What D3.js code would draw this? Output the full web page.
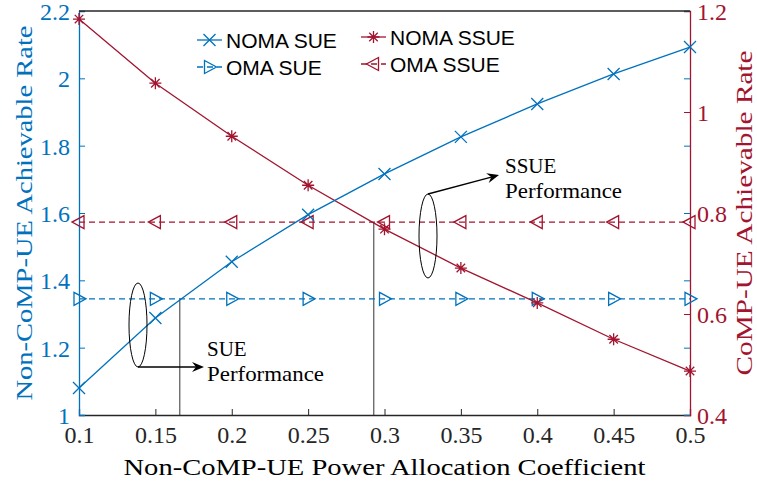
<!DOCTYPE html>
<meta charset="utf-8">
<style>
  body { margin: 0; background: #fff; }
  text { font-family: "Liberation Serif", "DejaVu Serif", serif; }
</style>
<svg width="757" height="486"></svg>
<script src="https://d3js.org/d3.v7.min.js"></script>
<script>
var alpha = [0.1, 0.15, 0.2, 0.25, 0.3, 0.35, 0.4, 0.45, 0.5]
var nomaSue = [1.08, 1.288, 1.455, 1.595, 1.716, 1.826, 1.924, 2.013, 2.093]
var omaSue = [1.345, 1.345, 1.345, 1.345, 1.345, 1.345, 1.345, 1.345, 1.345]
var nomaSsue = [1.184, 1.057, 0.952, 0.855, 0.768, 0.691, 0.622, 0.550, 0.487]
var omaSsue = [0.782, 0.782, 0.782, 0.782, 0.782, 0.782, 0.782, 0.782, 0.782]
var xTicks = [0.1, 0.15, 0.2, 0.25, 0.3, 0.35, 0.4, 0.45, 0.5]
var yLeftTicks = [1, 1.2, 1.4, 1.6, 1.8, 2, 2.2]
var yRightTicks = [0.4, 0.6, 0.8, 1, 1.2]
// crossing points marked by the vertical guide lines
var sueCross = 0.166, ssueCross = 0.293

var blue = '#0072BD', red = '#A2142F'
var svg = d3.select('svg')
var L = 79, R = 690, T = 11, B = 415

var x = d3.scaleLinear().domain([0.1, 0.5]).range([L, R])
var yL = d3.scaleLinear().domain([1, 2.2]).range([B, T])
var yR = d3.scaleLinear().domain([0.4, 1.2]).range([B, T])

// guide lines
svg.append('line').attr('x1', x(sueCross)).attr('x2', x(sueCross))
  .attr('y1', yL(1.345)).attr('y2', B).attr('stroke', '#333').attr('stroke-width', 1)
svg.append('line').attr('x1', x(ssueCross)).attr('x2', x(ssueCross))
  .attr('y1', yR(0.782)).attr('y2', B).attr('stroke', '#333').attr('stroke-width', 1)

// axes
var gx = svg.append('g').attr('transform', 'translate(0,' + B + ')')
  .call(d3.axisBottom(x).tickValues(xTicks).tickSize(-6).tickPadding(11).tickFormat(d3.format('')))
var gl = svg.append('g').attr('transform', 'translate(' + L + ',0)')
  .call(d3.axisLeft(yL).tickValues(yLeftTicks).tickSize(-6).tickPadding(9).tickFormat(d3.format('')))
var gr = svg.append('g').attr('transform', 'translate(' + R + ',0)')
  .call(d3.axisRight(yR).tickValues(yRightTicks).tickSize(-6).tickPadding(7).tickFormat(d3.format('')))
var glr = svg.append('g').attr('transform', 'translate(' + R + ',0)')
  .call(d3.axisRight(yL).tickValues(yLeftTicks).tickSize(-6).tickFormat(''))

svg.selectAll('g text').attr('font-family', null).style('font-size', '24px')
gx.selectAll('path, line').attr('stroke', '#262626')
gx.selectAll('text').attr('fill', '#262626')
gl.selectAll('path, line').attr('stroke', blue)
gl.selectAll('text').attr('fill', blue).attr('dy', '0.35em')
gr.selectAll('path, line').attr('stroke', red)
gr.selectAll('text').attr('fill', red).attr('dy', '0.35em')
glr.select('path').remove()
glr.selectAll('line').attr('stroke', blue)
svg.selectAll('.domain').attr('stroke-width', 1.3)

// lines
var lineL = d3.line().x(function (d, i) { return x(alpha[i]) }).y(function (d) { return yL(d) })
var lineR = d3.line().x(function (d, i) { return x(alpha[i]) }).y(function (d) { return yR(d) })

function marker(g, type, px, py, color) {
  var s = 6
  var p
  if (type === 'x') {
    p = 'M' + (px - s) + ',' + (py - s) + 'L' + (px + s) + ',' + (py + s) +
      'M' + (px - s) + ',' + (py + s) + 'L' + (px + s) + ',' + (py - s)
  } else if (type === 'star') {
    p = ''
    for (var k = 0; k < 4; k++) {
      var a = k * Math.PI / 4
      p += 'M' + (px - s * Math.cos(a)) + ',' + (py - s * Math.sin(a)) + 'L' + (px + s * Math.cos(a)) + ',' + (py + s * Math.sin(a))
    }
  } else if (type === 'tr') {
    p = 'M' + (px - 5) + ',' + (py - 6.5) + 'L' + (px + 7) + ',' + py + 'L' + (px - 5) + ',' + (py + 6.5) + 'Z'
  } else {
    p = 'M' + (px + 5) + ',' + (py - 6.5) + 'L' + (px - 7) + ',' + py + 'L' + (px + 5) + ',' + (py + 6.5) + 'Z'
  }
  g.append('path').attr('d', p).attr('stroke', color).attr('stroke-width', 1.3).attr('fill', 'none')
}

var series = [
  { v: omaSsue, line: lineR, y: yR, color: red, dash: '6,4', m: 'tl' },
  { v: omaSue, line: lineL, y: yL, color: blue, dash: '6,4', m: 'tr' },
  { v: nomaSsue, line: lineR, y: yR, color: red, dash: null, m: 'star' },
  { v: nomaSue, line: lineL, y: yL, color: blue, dash: null, m: 'x' }
]
series.forEach(function (s) {
  svg.append('path').datum(s.v).attr('d', s.line).attr('fill', 'none')
    .attr('stroke', s.color).attr('stroke-width', 1.3).attr('stroke-dasharray', s.dash)
  var g = svg.append('g')
  s.v.forEach(function (d, i) { marker(g, s.m, x(alpha[i]), s.y(d), s.color) })
})

// box top
svg.append('line').attr('x1', L).attr('x2', R).attr('y1', T).attr('y2', T).attr('stroke', '#262626').attr('stroke-width', 1.3)

// legend
var legend = [
  { name: 'NOMA SUE', color: blue, m: 'x', dash: null, lx: 197, ly: 40 },
  { name: 'OMA SUE', color: blue, m: 'tr', dash: '6,4', lx: 197, ly: 67 },
  { name: 'NOMA SSUE', color: red, m: 'star', dash: null, lx: 361, ly: 37 },
  { name: 'OMA SSUE', color: red, m: 'tl', dash: '6,4', lx: 361, ly: 64 }
]
legend.forEach(function (l) {
  svg.append('line').attr('x1', l.lx).attr('x2', l.lx + 25).attr('y1', l.ly).attr('y2', l.ly)
    .attr('stroke', l.color).attr('stroke-width', 1.3).attr('stroke-dasharray', l.dash)
  marker(svg, l.m, l.lx + 12.5, l.ly, l.color)
  svg.append('text').attr('x', l.lx + 29).attr('y', l.ly + 8).text(l.name)
    .style('font-family', '"Liberation Sans", Arial, sans-serif').style('font-size', '21px').attr('fill', '#000')
})

// annotations
function ann(cx, cy, ax, ay, bx, by, tx, ty, label) {
  svg.append('ellipse').attr('cx', cx).attr('cy', cy).attr('rx', 9).attr('ry', 42)
    .attr('fill', 'none').attr('stroke', '#000').attr('stroke-width', 1)
  var ang = Math.atan2(by - ay, bx - ax)
  svg.append('line').attr('x1', ax).attr('y1', ay).attr('x2', bx - 8 * Math.cos(ang)).attr('y2', by - 8 * Math.sin(ang))
    .attr('stroke', '#000').attr('stroke-width', 1.3)
  var hl = 12, hw = 5
  var p1 = [bx - hl * Math.cos(ang) + hw * Math.sin(ang), by - hl * Math.sin(ang) - hw * Math.cos(ang)]
  var p2 = [bx - hl * Math.cos(ang) - hw * Math.sin(ang), by - hl * Math.sin(ang) + hw * Math.cos(ang)]
  var p3 = [bx - 8 * Math.cos(ang), by - 8 * Math.sin(ang)]
  svg.append('path').attr('d', 'M' + bx + ',' + by + 'L' + p1 + 'L' + p3 + 'L' + p2 + 'Z').attr('fill', '#000')
  svg.append('text').attr('x', tx).attr('y', ty).text(label).style('font-size', '21px')
  svg.append('text').attr('x', tx).attr('y', ty + 25).text('Performance').style('font-size', '21px')
    .attr('textLength', 117).attr('lengthAdjust', 'spacingAndGlyphs')
}
ann(138, 325, 138, 367, 204, 367, 207, 356, 'SUE')
ann(428, 236, 428, 194, 499, 175, 505, 173, 'SSUE')

// axis titles
svg.append('text').attr('transform', 'translate(32,' + ((T + B) / 2) + ') rotate(-90)')
  .attr('text-anchor', 'middle').attr('fill', blue).style('font-size', '24px')
  .attr('textLength', 375).attr('lengthAdjust', 'spacingAndGlyphs').text('Non-CoMP-UE Achievable Rate')
svg.append('text').attr('transform', 'translate(752,' + ((T + B) / 2) + ') rotate(-90)')
  .attr('text-anchor', 'middle').attr('fill', red).style('font-size', '24px')
  .attr('textLength', 325).attr('lengthAdjust', 'spacingAndGlyphs').text('CoMP-UE Achievable Rate')
svg.append('text').attr('x', (L + R) / 2).attr('y', 475).attr('text-anchor', 'middle')
  .attr('fill', '#000').style('font-size', '24px')
  .attr('textLength', 522).attr('lengthAdjust', 'spacingAndGlyphs').text('Non-CoMP-UE Power Allocation Coefficient')
</script>
